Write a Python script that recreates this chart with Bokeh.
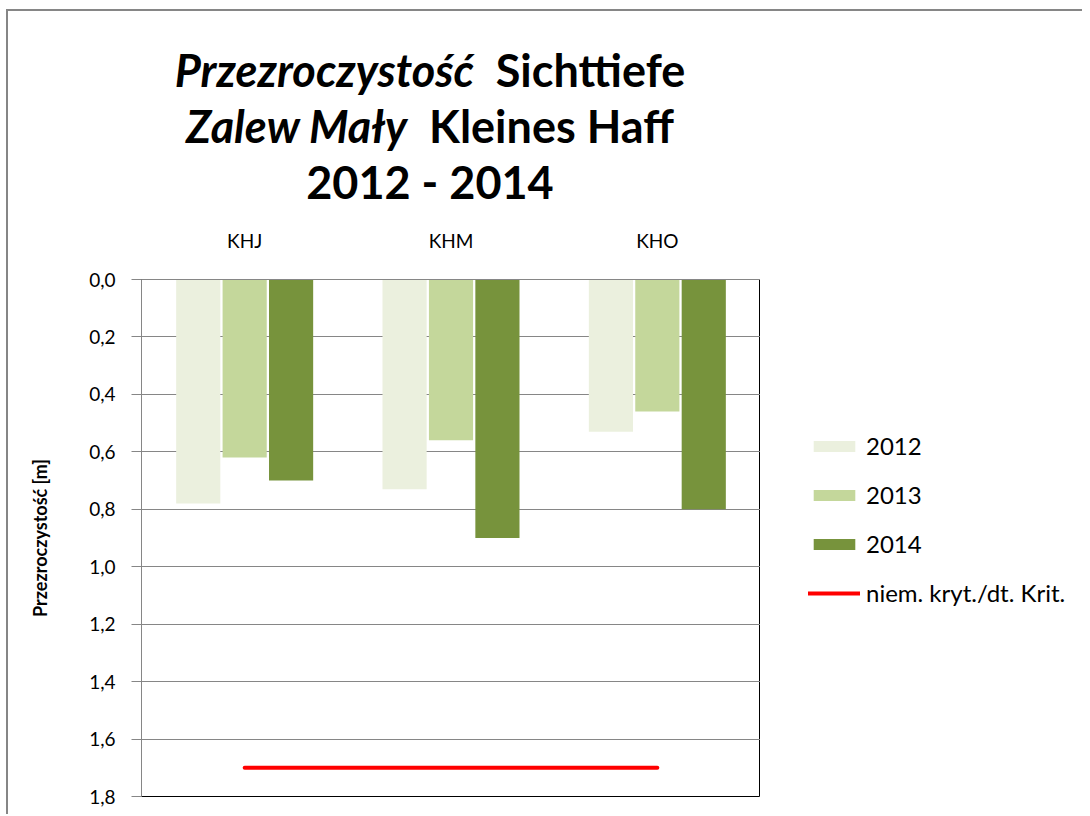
from bokeh.plotting import figure
from bokeh.models import (FactorRange, Range1d, FixedTicker, CustomJSTickFormatter,
                          Legend, LegendItem, ColumnDataSource, Div)
from bokeh.layouts import column, row
from bokeh.transform import dodge
from bokeh.embed import file_html
from bokeh.resources import INLINE

stations = ["KHJ", "KHM", "KHO"]
years = ["2012", "2013", "2014"]
v2012 = [0.78, 0.73, 0.53]
v2013 = [0.62, 0.56, 0.46]
v2014 = [0.70, 0.90, 0.80]
critical = 1.7
crit_label = "niem. kryt./dt. Krit."
colors = ["#EBF0DE", "#C4D79B", "#77933C"]
yticks = [0.0, 0.2, 0.4, 0.6, 0.8, 1.0, 1.2, 1.4, 1.6, 1.8]
title_lines = [("Przezroczystość", "Sichttiefe"), ("Zalew Mały", "Kleines Haff"), ("", "2012 - 2014")]

FONT = "Lato"
W = 1074
TH = 196          # title strip height
MW = 752          # main chart width
LW = W - MW       # legend strip width
CH = 607
BT, BB = 72, 18

# ---------------- title strip ----------------
html_lines = []
for it, nm in title_lines:
    if it:
        html_lines.append(f"<i>{it}</i>&nbsp; {nm}")
    else:
        html_lines.append(nm)
title_div = Div(text="<br>".join(html_lines), width=844, height=TH,
                styles={"font-family": FONT, "font-weight": "bold", "font-size": "45px",
                        "line-height": "56px", "text-align": "center", "color": "#000000",
                        "padding-top": "31px", "box-sizing": "border-box",
                        "width": "844px", "height": f"{TH}px", "margin": "0",
                        "white-space": "nowrap"})

# ---------------- main chart ----------------
src = ColumnDataSource(data=dict(st=stations, y2012=v2012, y2013=v2013, y2014=v2014))

def make_bars(fig, visible=True):
    rs = []
    for off, col, c in zip([-0.225, 0.0, 0.225], ["y2012", "y2013", "y2014"], colors):
        rs.append(fig.vbar(x=dodge("st", off, range=fig.x_range), top=col, bottom=0,
                           width=0.214, source=src, fill_color=c, line_color=None,
                           visible=visible))
    rs.append(fig.line(x=[stations[0], stations[-1]], y=[critical, critical],
                       line_color="#FF0000", line_width=4, line_cap="round",
                       visible=visible))
    return rs

p = figure(width=MW, height=CH, x_range=FactorRange(*stations),
           y_range=Range1d(1.8, 0.0), x_axis_location="above",
           output_backend="svg", toolbar_location=None,
           min_border_left=133, min_border_right=0, min_border_top=BT,
           min_border_bottom=BB)
make_bars(p)

p.yaxis.ticker = FixedTicker(ticks=yticks)
p.yaxis.formatter = CustomJSTickFormatter(code="return tick.toFixed(1).replace('.', ',');")
p.yaxis.major_tick_out = 10
p.yaxis.major_tick_in = 0
p.yaxis.minor_tick_line_color = None
p.yaxis.axis_line_color = "#868686"
p.yaxis.major_tick_line_color = "#868686"
p.yaxis.major_label_text_font = FONT
p.yaxis.major_label_text_font_size = "19px"
p.yaxis.major_label_text_color = "#000000"
p.yaxis.major_label_standoff = 16
p.yaxis.axis_label = "Przezroczystość [m]"
p.yaxis.axis_label_text_font = FONT
p.yaxis.axis_label_text_font_style = "bold"
p.yaxis.axis_label_text_font_size = "18px"
p.yaxis.axis_label_text_color = "#000000"
p.yaxis.axis_label_standoff = 35

p.xaxis.major_tick_line_color = None
p.xaxis.minor_tick_line_color = None
p.xaxis.axis_line_color = "#868686"
p.xaxis.major_label_text_font = FONT
p.xaxis.major_label_text_font_size = "19px"
p.xaxis.major_label_text_color = "#000000"
p.xaxis.major_label_standoff = 22

p.xgrid.grid_line_color = None
p.ygrid.grid_line_color = "#868686"
p.ygrid.grid_line_width = 1
p.outline_line_color = "#000000"
p.outline_line_width = 1
p.background_fill_color = "#FFFFFF"
p.border_fill_color = "#FFFFFF"

# ---------------- legend strip ----------------
lf = figure(width=LW, height=CH, x_range=FactorRange(*stations),
            y_range=Range1d(1.8, 0.0),
            output_backend="svg", toolbar_location=None,
            min_border_left=0, min_border_right=0, min_border_top=BT, min_border_bottom=BB)
lf.axis.visible = False
lf.grid.visible = False
lf.outline_line_color = None
lf.border_fill_color = "#FFFFFF"
leg_r = make_bars(lf, visible=False)

legend = Legend(items=[LegendItem(label=lab, renderers=[r])
                       for lab, r in zip(years + [crit_label], leg_r)],
                location=(48, 189))
legend.glyph_width = 52
legend.glyph_height = 14
legend.label_standoff = 6
legend.spacing = 20
legend.padding = 0
legend.margin = 0
legend.border_line_color = None
legend.background_fill_alpha = 0
legend.label_text_font = FONT
legend.label_text_font_size = "24px"
legend.label_text_color = "#000000"
lf.add_layout(legend, "center")

layout = column(title_div, row(p, lf, spacing=0), spacing=0)
layout.styles = {"border-left": "2px solid #868686", "border-top": "2px solid #868686",
                 "margin-left": "6px", "margin-top": "9px"}

open("out.html", "w").write(file_html(layout, INLINE))
